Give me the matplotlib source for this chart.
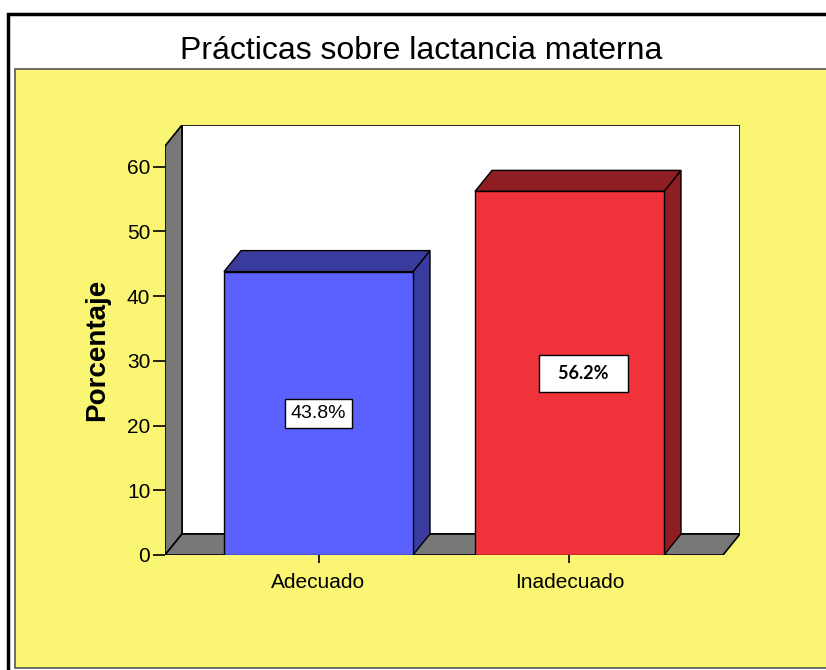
import matplotlib
matplotlib.use("Agg")
import matplotlib.pyplot as plt
from matplotlib.patches import Rectangle, Polygon

# datos
categorias = ["Adecuado", "Inadecuado"]
porcentajes = [43.8, 56.2]
etiquetas = ["43.8%", "56.2%"]
yticks = [0, 10, 20, 30, 40, 50, 60]

col_frente = ["#5A61FF", "#F0323A"]
col_lado = ["#393C9C", "#8E1D24"]
gris = "#787878"
amarillo = "#FAF673"

fig = plt.figure(figsize=(8.26, 6.70), dpi=100)
fig.patch.set_facecolor("white")

# marco exterior y fondo amarillo
fig.patches.append(Rectangle((8 / 826, -0.05), 1.2, (670 - 14) / 670 + 0.05,
                             transform=fig.transFigure, facecolor="white",
                             edgecolor="black", lw=2.5, zorder=-3))
fig.patches.append(Rectangle((15 / 826, 2 / 670), 1.2, (670 - 69 - 2) / 670,
                             transform=fig.transFigure, facecolor=amarillo,
                             edgecolor="#555555", lw=1.2, zorder=-2))

fig.text(421 / 826, (670 - 59) / 670, "Prácticas sobre lactancia materna",
         ha="center", va="baseline", fontsize=23, family="Liberation Sans")

# ejes: 251 px por categoria, 6.47 px por unidad
ax = fig.add_axes([165 / 826, (670 - 555) / 670, (740 - 165) / 826, (555 - 125) / 670])
ax.patch.set_visible(False)
for s in ax.spines.values():
    s.set_visible(False)

xa, xb = -0.6116, 1.6116
dx = 17 / 251
dy = 21 / 6.47
ytop = 66.46 - dy
ax.set_xlim(xa, xb + dx)
ax.set_ylim(0, 66.46)

# paredes
ax.add_patch(Polygon([(xa + dx, dy), (xb + dx, dy), (xb + dx, ytop + dy), (xa + dx, ytop + dy)],
                     closed=True, facecolor="white", edgecolor="black", lw=1.2, zorder=1))
ax.add_patch(Polygon([(xa, 0), (xa + dx, dy), (xa + dx, ytop + dy), (xa, ytop)],
                     closed=True, facecolor=gris, edgecolor="black", lw=1.2, zorder=2))
ax.add_patch(Polygon([(xa, 0), (xb, 0), (xb + dx, dy), (xa + dx, dy)],
                     closed=True, facecolor=gris, edgecolor="black", lw=1.2, zorder=2))

ancho = 189 / 251
for i, v in enumerate(porcentajes):
    x0 = i - ancho / 2
    x1 = i + ancho / 2
    ax.add_patch(Polygon([(x1, 0), (x1 + dx, dy), (x1 + dx, v + dy), (x1, v)],
                         closed=True, facecolor=col_lado[i], edgecolor="black", lw=1, zorder=3))
    ax.add_patch(Polygon([(x0, v), (x0 + dx, v + dy), (x1 + dx, v + dy), (x1, v)],
                         closed=True, facecolor=col_lado[i], edgecolor="black", lw=1, zorder=3))
    ax.add_patch(Rectangle((x0, 0), ancho, v, facecolor=col_frente[i],
                           edgecolor="black", lw=1, zorder=4))

ax.text(0, porcentajes[0] / 2, etiquetas[0], ha="center", va="center", fontsize=14,
        family="Liberation Sans", zorder=6,
        bbox=dict(boxstyle="square,pad=0.3", facecolor="white", edgecolor="black", lw=1))
ax.text(1 + 14 / 251, porcentajes[1] / 2, "\u2002" + etiquetas[1] + "\u2002", ha="center",
        va="center", fontsize=13, fontweight="bold", family="Lato", zorder=6,
        bbox=dict(boxstyle="square,pad=0.55", facecolor="white", edgecolor="black", lw=1))

ax.set_yticks(yticks)
ax.set_xticks(range(len(categorias)))
ax.set_xticklabels(categorias)
ax.tick_params(axis="y", direction="out", length=8.6, width=1.2, pad=2, labelsize=15)
ax.tick_params(axis="x", direction="out", length=6, width=1.2, pad=7, labelsize=15)
for t in ax.get_xticklabels() + ax.get_yticklabels():
    t.set_family("Liberation Sans")

fig.text(97 / 826, (670 - 350) / 670, "Porcentaje", rotation=90, ha="center", va="center",
         fontsize=20, fontweight="bold", family="Liberation Sans")

fig.savefig("out.png", dpi=100)
